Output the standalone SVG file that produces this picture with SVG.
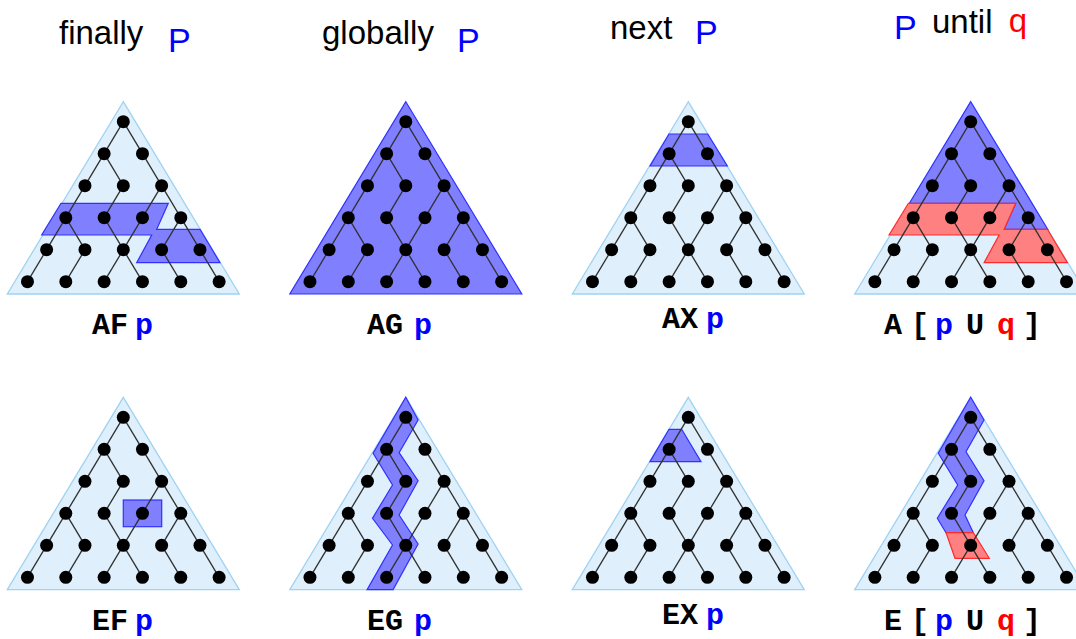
<svg xmlns="http://www.w3.org/2000/svg" xmlns:xlink="http://www.w3.org/1999/xlink" width="1076" height="639" viewBox="0 0 1076 639">
<style>
.tri{fill:#dff0fc;stroke:#9fd2f3;stroke-width:1.3}
.blue{fill:#8080ff;stroke:#3030ff;stroke-width:1.2;stroke-linejoin:miter}
.red{fill:#ff8080;stroke:#ff2b2b;stroke-width:1.2}
.edge{stroke:#303030;stroke-width:1.3}
.ttl{font-family:"Liberation Sans",Arial,sans-serif;font-size:33px;fill:#000}
.P{font-family:"Liberation Sans",Arial,sans-serif;font-size:34px;fill:#0000ff}
.q{font-family:"Liberation Sans",Arial,sans-serif;font-size:33px;fill:#ff0000}
.lbl{font-family:"Liberation Mono","Courier New",monospace;font-weight:bold;font-size:30px;fill:#000}
.lp{fill:#0000ff}
.lq{fill:#ff0000}
</style>
<defs>
<polygon id="triShape" points="0,0 116,192.3 -116,192.3"/>
<g id="tree">
<g class="edge">
<line x1="0" y1="20" x2="-19.17" y2="52"/>
<line x1="0" y1="20" x2="19.17" y2="52"/>
<line x1="-19.17" y1="52" x2="-38.33" y2="84"/>
<line x1="-19.17" y1="52" x2="0" y2="84"/>
<line x1="19.17" y1="52" x2="38.33" y2="84"/>
<line x1="-38.33" y1="84" x2="-57.5" y2="116"/>
<line x1="0" y1="84" x2="-19.17" y2="116"/>
<line x1="38.33" y1="84" x2="19.17" y2="116"/>
<line x1="38.33" y1="84" x2="57.5" y2="116"/>
<line x1="-57.5" y1="116" x2="-76.67" y2="148"/>
<line x1="-57.5" y1="116" x2="-38.33" y2="148"/>
<line x1="-19.17" y1="116" x2="0" y2="148"/>
<line x1="19.17" y1="116" x2="0" y2="148"/>
<line x1="57.5" y1="116" x2="38.33" y2="148"/>
<line x1="57.5" y1="116" x2="76.67" y2="148"/>
<line x1="-76.67" y1="148" x2="-95.83" y2="180"/>
<line x1="-38.33" y1="148" x2="-57.5" y2="180"/>
<line x1="0" y1="148" x2="-19.17" y2="180"/>
<line x1="0" y1="148" x2="19.17" y2="180"/>
<line x1="38.33" y1="148" x2="57.5" y2="180"/>
<line x1="76.67" y1="148" x2="95.83" y2="180"/>
</g>
<g fill="#000">
<circle cx="0" cy="20" r="6.5"/>
<circle cx="-19.17" cy="52" r="6.5"/><circle cx="19.17" cy="52" r="6.5"/>
<circle cx="-38.33" cy="84" r="6.5"/><circle cx="0" cy="84" r="6.5"/><circle cx="38.33" cy="84" r="6.5"/>
<circle cx="-57.5" cy="116" r="6.5"/><circle cx="-19.17" cy="116" r="6.5"/><circle cx="19.17" cy="116" r="6.5"/><circle cx="57.5" cy="116" r="6.5"/>
<circle cx="-76.67" cy="148" r="6.5"/><circle cx="-38.33" cy="148" r="6.5"/><circle cx="0" cy="148" r="6.5"/><circle cx="38.33" cy="148" r="6.5"/><circle cx="76.67" cy="148" r="6.5"/>
<circle cx="-95.83" cy="180" r="6.5"/><circle cx="-57.5" cy="180" r="6.5"/><circle cx="-19.17" cy="180" r="6.5"/><circle cx="19.17" cy="180" r="6.5"/><circle cx="57.5" cy="180" r="6.5"/><circle cx="95.83" cy="180" r="6.5"/>
</g>
</g>
<polygon id="fband" points="-62.3,101.6 45,101.6 33.4,127.6 76.7,127.6 96.7,161 13.4,161 28.4,133.3 -81.6,133.3"/>
</defs>

<g id="titles">
<text class="ttl" x="59" y="43.5">finally</text><text class="P" x="168" y="52.4">P</text>
<text class="ttl" x="322" y="43.5">globally</text><text class="P" x="457" y="52">P</text>
<text class="ttl" x="610" y="39.3">next</text><text class="P" x="695" y="44.4">P</text>
<text class="P" x="894" y="38.6">P</text><text class="ttl" x="932" y="33.2">until</text><text class="q" x="1008.7" y="32.3">q</text>
</g>

<g id="AF" transform="translate(123.3,101.7)">
<use xlink:href="#triShape" class="tri"/>
<use xlink:href="#fband" class="blue"/>
<use xlink:href="#tree"/>
</g>
<g id="AG" transform="translate(405.8,101.7)">
<use xlink:href="#triShape" class="blue"/>
<use xlink:href="#tree"/>
</g>
<g id="AX" transform="translate(688.3,101.7)">
<use xlink:href="#triShape" class="tri"/>
<polygon class="blue" points="-19.3,32.3 19.4,32.3 39,64.3 -38.3,64.3"/>
<use xlink:href="#tree"/>
</g>
<g id="AU" transform="translate(970.7,101.7)">
<use xlink:href="#triShape" class="tri"/>
<polygon class="blue" points="0,0 77,127.6 33.4,127.6 45,101.6 -61.3,101.6"/>
<use xlink:href="#fband" class="red"/>
<use xlink:href="#tree"/>
</g>

<g id="EF" transform="translate(123.3,397.3)">
<use xlink:href="#triShape" class="tri"/>
<rect class="blue" x="0" y="102.7" width="38.4" height="26.7"/>
<use xlink:href="#tree"/>
</g>
<g id="EG" transform="translate(405.8,397.3)">
<use xlink:href="#triShape" class="tri"/>
<polygon class="blue" points="0,0 12.3,22.7 -6.7,55.4 12.3,83.4 -6.7,117.7 12.3,146.7 -12.7,192.3 -38.7,192.3 -13.3,147.7 -33.3,121 -13.3,87.7 -32.7,56"/>
<use xlink:href="#tree"/>
</g>
<g id="EX" transform="translate(688.3,397.3)">
<use xlink:href="#triShape" class="tri"/>
<polygon class="blue" points="-19.3,32 -6.6,32 12.7,64.4 -38.3,64.4"/>
<use xlink:href="#tree"/>
</g>
<g id="EU" transform="translate(970.7,397.3)">
<use xlink:href="#triShape" class="tri"/>
<polygon class="blue" points="0,0 13.3,22.7 -4.7,54.4 13.3,83.4 -5.7,117.7 2.6,135.4 -24.7,135.4 -33.4,121 -13,87.7 -32.4,56"/>
<polygon class="red" points="-24.7,135.4 2.6,135.4 18.6,161 -15.7,161"/>
<use xlink:href="#tree"/>
</g>

<g id="labels">
<text class="lbl" x="92" y="334">AF<tspan class="lp" x="135">p</tspan></text>
<text class="lbl" x="367" y="334">AG<tspan class="lp" x="414">p</tspan></text>
<text class="lbl" x="662" y="328">AX<tspan class="lp" x="706">p</tspan></text>
<text class="lbl" x="884" y="334">A<tspan x="911">[</tspan><tspan class="lp" x="935">p</tspan><tspan x="966">U</tspan><tspan class="lq" x="997">q</tspan><tspan x="1023">]</tspan></text>
<text class="lbl" x="92" y="630">EF<tspan class="lp" x="135">p</tspan></text>
<text class="lbl" x="367" y="630">EG<tspan class="lp" x="414">p</tspan></text>
<text class="lbl" x="662" y="624">EX<tspan class="lp" x="706">p</tspan></text>
<text class="lbl" x="884" y="630">E<tspan x="911">[</tspan><tspan class="lp" x="935">p</tspan><tspan x="966">U</tspan><tspan class="lq" x="997">q</tspan><tspan x="1023">]</tspan></text>
</g>
</svg>
